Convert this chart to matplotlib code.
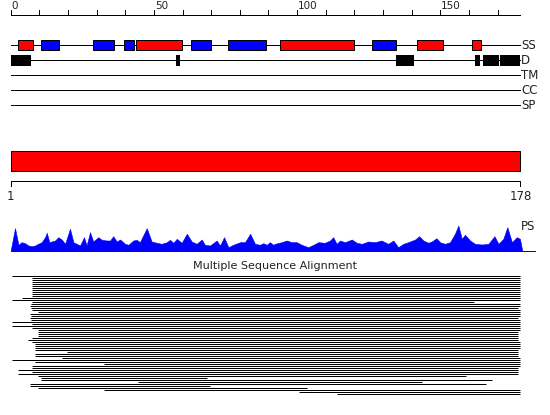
import matplotlib
matplotlib.use("Agg")
import matplotlib.pyplot as plt
from matplotlib.patches import Rectangle

# sequence length and track names
seq_len = 178
track_names = ["SS", "D", "TM", "CC", "SP"]
ruler_labels = [0, 50, 100, 150]

# secondary structure elements (start, end, kind)
ss_start = [2.7, 10.7, 28.9, 39.7, 43.9, 62.8, 75.7, 93.9, 126.1, 141.9, 161.2]
ss_end = [7.7, 16.8, 36.0, 43.0, 59.8, 69.9, 89.2, 119.9, 134.6, 151.0, 164.1]
ss_kind = ["H", "E", "E", "E", "H", "E", "E", "H", "E", "H", "H"]

# disordered regions
dis_start = [0.0, 57.8, 134.7, 162.1, 164.9, 170.8]
dis_end = [7.1, 59.2, 140.8, 163.9, 170.5, 178.0]

# domain assignment
dom_start = [0]
dom_end = [178]
dom_labels = ["1", "178"]

# PS profile (position, height)
ps_pos = [0, 1.5, 2.7, 3.8, 5.0, 6.2, 7.3, 8.5, 9.6, 10.8, 12.0, 12.6, 13.5, 14.3,
          15.5, 16.6, 17.8, 19.0, 20.7, 21.9, 23.0, 24.2, 25.6, 26.5, 27.7, 28.8,
          30.6, 31.8, 33.5, 34.7, 35.8, 37.0, 38.2, 39.9, 41.1, 42.8, 44.0, 45.1,
          47.5, 49.2, 51.0, 52.7, 54.5, 55.6, 56.8, 58.0, 59.7, 61.5, 63.2, 64.9,
          66.7, 67.8, 69.6, 71.9, 73.1, 74.5, 76.0, 77.7, 80.1, 81.8, 83.6, 85.3,
          87.0, 88.2, 89.4, 90.5, 91.7, 92.3, 94.6, 96.4, 98.1, 99.9, 101.6, 103.9,
          105.7, 107.4, 109.7, 111.5, 112.6, 113.8, 115.0, 116.7, 119.1, 120.8,
          122.6, 124.9, 127.2, 129.5, 131.8, 133.6, 135.3, 137.1, 138.8, 141.2,
          142.6, 144.1, 145.8, 147.0, 148.7, 149.9, 151.6, 153.4, 155.1, 156.3,
          157.5, 158.6, 160.4, 162.1, 164.5, 166.8, 168.9, 170.3, 172.0, 173.4,
          175.0, 176.7, 177.8, 178.6]
ps_val = [0, 22.3, 5.7, 8.3, 7.3, 5.0, 4.3, 5.0, 6.7, 8.3, 13.3, 17.7, 8.3, 9.0,
          10.0, 13.3, 11.0, 6.7, 21.7, 8.3, 6.7, 5.0, 13.3, 5.0, 18.3, 9.0,
          13.3, 10.7, 10.0, 10.0, 14.3, 9.0, 11.0, 6.7, 5.7, 10.0, 10.7, 8.3,
          22.3, 9.0, 7.7, 6.7, 8.3, 10.7, 7.7, 11.7, 7.7, 16.7, 9.0, 6.7,
          11.0, 5.7, 5.0, 10.0, 5.0, 13.3, 3.3, 5.7, 8.3, 8.3, 16.7, 6.7,
          5.7, 7.3, 5.7, 8.3, 5.7, 6.7, 8.3, 10.0, 8.3, 8.3, 5.7, 3.3,
          5.7, 8.3, 7.7, 10.0, 13.3, 6.7, 10.0, 8.3, 11.0, 7.7,
          6.7, 9.0, 8.3, 10.0, 6.7, 10.0, 3.3, 6.7, 8.3, 11.0,
          14.3, 10.0, 7.7, 9.0, 12.3, 8.3, 6.7, 8.3, 16.7, 25.0,
          11.7, 15.7, 10.0, 6.7, 6.0, 6.7, 14.3, 6.7, 11.7, 23.3,
          8.3, 13.3, 11.7, 0]

# multiple sequence alignment rows (start, end)
msa_start = [0.5, 7.4, 7.4, 7.4, 7.4, 7.4, 7.4, 7.4, 7.4, 7.4, 7.4, 3.8, 0.5, 7.4,
             7.1, 6.8, 7.1, 7.4, 9.6, 6.8, 7.1, 6.8, 7.1, 0.5, 7.4, 0.5, 7.4,
             9.6, 9.6, 9.6, 9.6, 7.4, 5.9, 7.4, 8.6, 8.6, 8.6, 8.6, 19.6, 8.6,
             8.6, 17.8, 0.5, 8.6, 32.6, 7.4, 7.4, 2.7, 7.4, 2.7, 9.6, 10.6,
             10.6, 44.6, 6.8, 6.8, 9.6, 32.6, 100.8, 113.8]
msa_end = [178, 178, 178, 178, 178, 178, 178, 178, 178, 178, 178, 178, 178, 161.9,
           178, 178, 177, 178, 178, 178, 178, 177, 178, 178, 178, 178, 178,
           178, 177, 177, 177, 177, 177, 178, 178, 178, 178, 177, 177, 177,
           177, 178, 178, 178, 178, 178, 177, 177, 177, 177, 158.9, 68.4,
           167.9, 143.7, 165.9, 69.6, 103.6, 178, 178, 178]

# pixel layout
X0 = 10.7
SCALE = 2.864
W, H = 550, 415
lw = 0.72

fig = plt.figure(figsize=(W / 100, H / 100), dpi=100)
ax = fig.add_axes([0, 0, 1, 1])
ax.set_xlim(-X0 / SCALE, (W - X0) / SCALE)
ax.set_ylim(H, 0)
ax.axis("off")

# top ruler
ax.plot([0, seq_len], [15.5, 15.5], color="black", lw=lw)
for t in range(0, seq_len, 10):
    ax.plot([t, t], [10, 15.5], color="black", lw=lw)
for t in ruler_labels:
    ax.text(t + 0.3, 6, str(t), ha="left", va="center", fontsize=7.5, color="#222222")

# tracks
track_y = [45.5, 60.5, 75.5, 90.5, 105.5]
for name, y in zip(track_names, track_y):
    ax.plot([0, seq_len], [y, y], color="black", lw=lw, zorder=1)
    ax.text(seq_len + 0.2, y, name, ha="left", va="center", fontsize=8.5, color="#222222")

for s, e, k in zip(ss_start, ss_end, ss_kind):
    c = "#ff0000" if k == "H" else "#0000ff"
    ax.add_patch(Rectangle((s, 40.5), e - s, 10, facecolor=c, edgecolor="black", lw=lw, zorder=2))

for s, e in zip(dis_start, dis_end):
    ax.add_patch(Rectangle((s, 55), e - s, 11, facecolor="black", edgecolor="none", zorder=2))

# domain bar
for s, e in zip(dom_start, dom_end):
    ax.add_patch(Rectangle((s, 150.5), e - s, 20, facecolor="#ff0000", edgecolor="black", lw=lw))
ax.plot([0, seq_len], [181.5, 181.5], color="black", lw=lw)
for t, lab in zip([0, seq_len], dom_labels):
    ax.plot([t, t], [181.5, 186], color="black", lw=lw)
    ax.text(t, 196, lab, ha="center", va="center", fontsize=8.5, color="#222222")

# PS profile
base = 250.5
ax.plot([0, (535 - X0) / SCALE], [base, base], color="#0000ff", lw=lw)
ax.fill_between(ps_pos, base, [base - v for v in ps_val], color="#0000ff", lw=0.4)
ax.text(seq_len + 0.2, 226, "PS", ha="left", va="center", fontsize=8.5, color="#222222")

# MSA
fig.text(0.5, 1 - 266 / H, "Multiple Sequence Alignment", ha="center", va="center",
         fontsize=8, color="#222222")
for k, (s, e) in enumerate(zip(msa_start, msa_end)):
    y = 275.5 + 2 * k
    ax.plot([s, e], [y, y], color="black", lw=lw, solid_capstyle="butt")

fig.savefig("out.png", dpi=100)
